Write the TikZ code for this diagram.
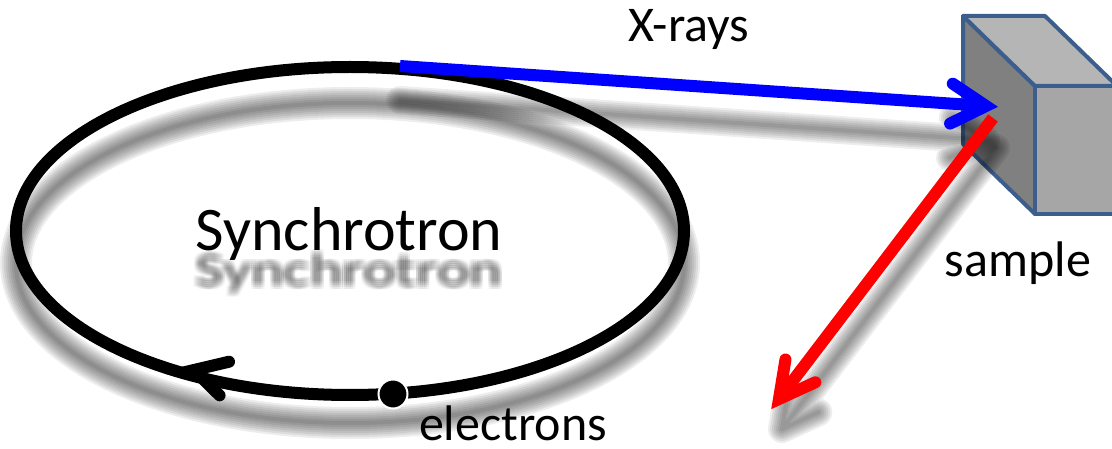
\documentclass[tikz,border=0pt]{standalone}
\usepackage{fontspec}
\setmainfont{Carlito}
\usetikzlibrary{calc}
\definecolor{cubeedge}{HTML}{3B5E8C}
\definecolor{faceside}{HTML}{808080}
\definecolor{facetop}{HTML}{B5B5B5}
\definecolor{facefront}{HTML}{A6A6A6}
\definecolor{xray}{HTML}{0000FF}
\definecolor{scatter}{HTML}{FF0000}
\tikzset{
  ring/.style={draw=black, line width=12pt},
  shaft/.style={line width=12pt, line cap=butt},
  barb/.style={line width=12pt, line cap=round, line join=miter},
  haze/.style={draw=black, draw opacity=0.07, line width=#1, line cap=round, line join=round},
  cubeface/.style={draw=cubeedge, line width=4pt, line join=round},
  label/.style={anchor=base, inner sep=0pt, text depth=0pt, font=\fontsize{50}{60}\selectfont},
  title/.style={anchor=base, inner sep=0pt, text depth=0pt, font=\fontsize{62}{74}\selectfont},
}
\begin{document}
\begin{tikzpicture}[x=1pt,y=-1pt]
\useasboundingbox (0,0) rectangle (1112,449);
\clip (0,0) rectangle (1112,449);

% key points
\coordinate (ringc) at (350,231);
\coordinate (xs) at (400,66);
\coordinate (xt) at (986,106);
\coordinate (rs) at (993,118);
\coordinate (rt) at (779,399);
\coordinate (et) at (194,370);
\coordinate (eb) at (290,397);

% cube corners
\coordinate (cA) at (963,16);
\coordinate (cB) at (1045,16);
\coordinate (cC) at (1117,86);
\coordinate (cD) at (1035,86);
\coordinate (cE) at (1035,214);
\coordinate (cF) at (1117,214);
\coordinate (cG) at (963,144);

% soft shadow of the ring
\foreach \w in {4,8,...,32}
  \draw[haze=\w pt] (350,263) ellipse [x radius=334pt, y radius=160pt];

% soft shadow of the title
\foreach \dx in {-4,-2,0,2,4}
  \foreach \dy in {-4,-2,0,2,4}
    \node[title, text=black, text opacity=0.035, yscale=0.74] at ($(349,286)+(\dx,\dy)$) {Synchrotron};

% sample cube
\filldraw[cubeface, fill=faceside] (cA) -- (cD) -- (cE) -- (cG) -- cycle;
\filldraw[cubeface, fill=facetop] (cA) -- (cB) -- (cC) -- (cD) -- cycle;
\filldraw[cubeface, fill=facefront] (cD) -- (cC) -- (cF) -- (cE) -- cycle;

% soft shadows of the beams
\begin{scope}[transform canvas={yshift=-34pt}]
\foreach \w in {4,8,...,28}
  \draw[haze=\w pt] (xs) -- (xt) ($(xt)!40pt!30:(xs)$) -- (xt) -- ($(xt)!40pt!-30:(xs)$);
\end{scope}
\begin{scope}[transform canvas={xshift=3pt,yshift=-30pt}]
\foreach \w in {4,8,...,28}
  \draw[haze=\w pt] (rs) -- (rt) ($(rt)!40pt!28:(rs)$) -- (rt) -- ($(rt)!40pt!-28:(rs)$);
\end{scope}

% storage ring with direction of travel
\draw[ring] (ringc) ellipse [x radius=334pt, y radius=164pt];
\draw[barb, draw=black] ($(et)!36pt!29:(eb)$) -- (et) -- ($(et)!36pt!-29:(eb)$);
\node[circle, fill=black, draw=white, line width=2pt, minimum size=29pt, inner sep=0pt] (bunch) at (393,394) {};

% X-ray beam
\draw[shaft, draw=xray] (xs) -- (xt);
\draw[barb, draw=xray] ($(xt)!40pt!30:(xs)$) -- (xt) -- ($(xt)!40pt!-30:(xs)$);

% scattered beam
\draw[shaft, draw=scatter] (rs) -- (rt);
\draw[barb, draw=scatter] ($(rt)!40pt!28:(rs)$) -- (rt) -- ($(rt)!40pt!-28:(rs)$);

% labels
\node[title] (sync) at (349,251) {Synchrotron};
\node[label] (xlab) at (689,42) {X-rays};
\node[label] (slab) at (1018,277) {sample};
\node[label] (elab) at (513,440) {electrons};
\end{tikzpicture}
\end{document}
